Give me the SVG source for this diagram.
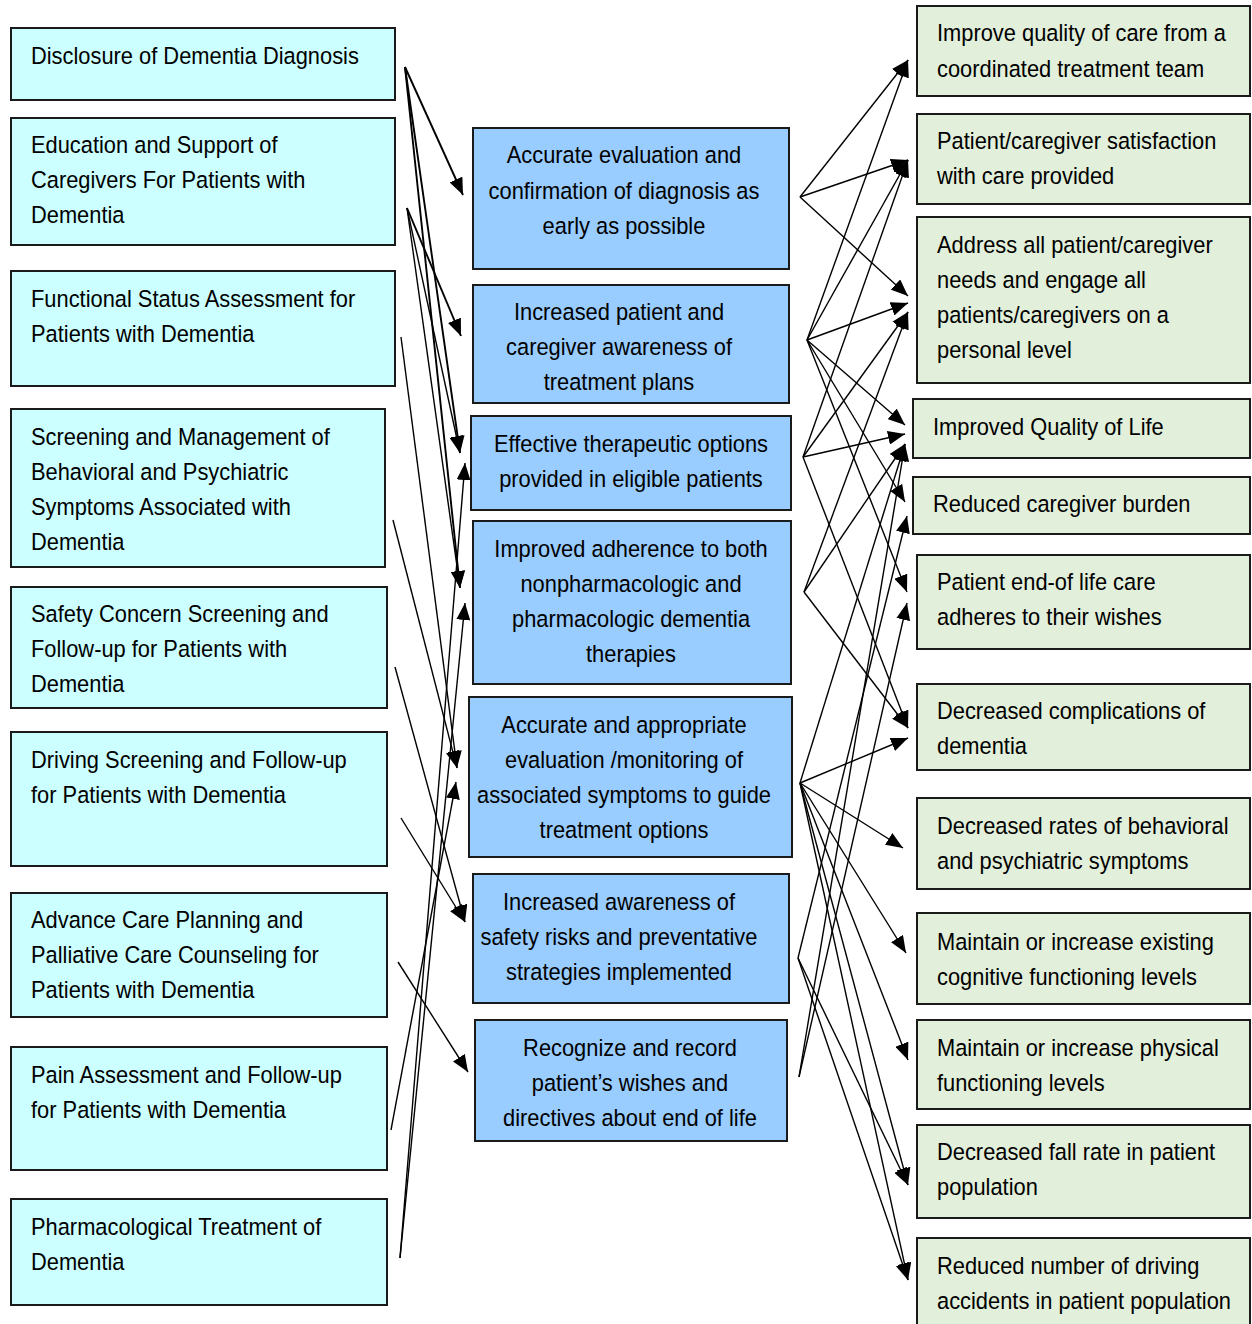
<svg xmlns="http://www.w3.org/2000/svg" width="1252" height="1324" viewBox="0 0 1252 1324">
<defs>
<marker id="ah" markerUnits="userSpaceOnUse" markerWidth="18" markerHeight="14" refX="17" refY="7" orient="auto">
<path d="M0,0 L17,7 L0,14 z" fill="#000"/>
</marker>
<style>
.l rect{fill:#CCFFFF;stroke:#1a1a1a;stroke-width:2}
.m rect{fill:#99CCFF;stroke:#1a1a1a;stroke-width:2}
.r rect{fill:#E2EFDA;stroke:#1a1a1a;stroke-width:2}
text{font-family:"Liberation Sans",Arial,sans-serif;font-size:23.5px;fill:#000;transform-box:fill-box;transform-origin:left center;transform:scaleX(0.93)}
.m text{text-anchor:middle;transform-origin:center}
#connectors line{stroke:#000;stroke-width:1.4;marker-end:url(#ah)}
#connectors .t{stroke-width:1.9}
</style>
</defs>
<rect width="1252" height="1324" fill="#fff"/>

<g id="L1" class="l"><rect x="11" y="28" width="384" height="72"/><text x="31" y="64">Disclosure of Dementia Diagnosis</text></g>
<g id="L2" class="l"><rect x="11" y="118" width="384" height="127"/><text x="31" y="153">Education and Support of</text><text x="31" y="188">Caregivers For Patients with</text><text x="31" y="223">Dementia</text></g>
<g id="L3" class="l"><rect x="11" y="271" width="384" height="115"/><text x="31" y="307">Functional Status Assessment for</text><text x="31" y="342">Patients with Dementia</text></g>
<g id="L4" class="l"><rect x="11" y="409" width="374" height="158"/><text x="31" y="445">Screening and Management of</text><text x="31" y="480">Behavioral and Psychiatric</text><text x="31" y="515">Symptoms Associated with</text><text x="31" y="550">Dementia</text></g>
<g id="L5" class="l"><rect x="11" y="587" width="376" height="121"/><text x="31" y="622">Safety Concern Screening and</text><text x="31" y="657">Follow-up for Patients with</text><text x="31" y="692">Dementia</text></g>
<g id="L6" class="l"><rect x="11" y="732" width="376" height="134"/><text x="31" y="768">Driving Screening and Follow-up</text><text x="31" y="803">for Patients with Dementia</text></g>
<g id="L7" class="l"><rect x="11" y="893" width="376" height="124"/><text x="31" y="928">Advance Care Planning and</text><text x="31" y="963">Palliative Care Counseling for</text><text x="31" y="998">Patients with Dementia</text></g>
<g id="L8" class="l"><rect x="11" y="1047" width="376" height="123"/><text x="31" y="1083">Pain Assessment and Follow-up</text><text x="31" y="1118">for Patients with Dementia</text></g>
<g id="L9" class="l"><rect x="11" y="1199" width="376" height="106"/><text x="31" y="1235">Pharmacological Treatment of</text><text x="31" y="1270">Dementia</text></g>

<g id="M1" class="m"><rect x="473" y="128" width="316" height="141"/><text x="624" y="163">Accurate evaluation and</text><text x="624" y="199">confirmation of diagnosis as</text><text x="624" y="234">early as possible</text></g>
<g id="M2" class="m"><rect x="473" y="285" width="316" height="118"/><text x="619" y="320">Increased patient and</text><text x="619" y="355">caregiver awareness of</text><text x="619" y="390">treatment plans</text></g>
<g id="M3" class="m"><rect x="471" y="416" width="320" height="94"/><text x="631" y="452">Effective therapeutic options</text><text x="631" y="487">provided in eligible patients</text></g>
<g id="M4" class="m"><rect x="473" y="521" width="318" height="163"/><text x="631" y="557">Improved adherence to both</text><text x="631" y="592">nonpharmacologic and</text><text x="631" y="627">pharmacologic dementia</text><text x="631" y="662">therapies</text></g>
<g id="M5" class="m"><rect x="469" y="697" width="323" height="160"/><text x="624" y="733">Accurate and appropriate</text><text x="624" y="768">evaluation /monitoring of</text><text x="624" y="803">associated symptoms to guide</text><text x="624" y="838">treatment options</text></g>
<g id="M6" class="m"><rect x="473" y="874" width="316" height="129"/><text x="619" y="910">Increased awareness of</text><text x="619" y="945">safety risks and preventative</text><text x="619" y="980">strategies implemented</text></g>
<g id="M7" class="m"><rect x="475" y="1020" width="312" height="121"/><text x="630" y="1056">Recognize and record</text><text x="630" y="1091">patient’s wishes and</text><text x="630" y="1126">directives about end of life</text></g>

<g id="R1" class="r"><rect x="917" y="6" width="333" height="90"/><text x="937" y="41">Improve quality of care from a</text><text x="937" y="77">coordinated treatment team</text></g>
<g id="R2" class="r"><rect x="917" y="114" width="333" height="90"/><text x="937" y="149">Patient/caregiver satisfaction</text><text x="937" y="184">with care provided</text></g>
<g id="R3" class="r"><rect x="917" y="217" width="333" height="166"/><text x="937" y="253">Address all patient/caregiver</text><text x="937" y="288">needs and engage all</text><text x="937" y="323">patients/caregivers on a</text><text x="937" y="358">personal level</text></g>
<g id="R4" class="r"><rect x="913" y="399" width="337" height="59"/><text x="933" y="435">Improved Quality of Life</text></g>
<g id="R5" class="r"><rect x="913" y="477" width="337" height="57"/><text x="933" y="512">Reduced caregiver burden</text></g>
<g id="R6" class="r"><rect x="917" y="555" width="333" height="94"/><text x="937" y="590">Patient end-of life care</text><text x="937" y="625">adheres to their wishes</text></g>
<g id="R7" class="r"><rect x="917" y="684" width="333" height="86"/><text x="937" y="719">Decreased complications of</text><text x="937" y="754">dementia</text></g>
<g id="R8" class="r"><rect x="917" y="798" width="333" height="91"/><text x="937" y="834">Decreased rates of behavioral</text><text x="937" y="869">and psychiatric symptoms</text></g>
<g id="R9" class="r"><rect x="917" y="913" width="333" height="91"/><text x="937" y="950">Maintain or increase existing</text><text x="937" y="985">cognitive functioning levels</text></g>
<g id="R10" class="r"><rect x="917" y="1020" width="333" height="89"/><text x="937" y="1056">Maintain or increase physical</text><text x="937" y="1091">functioning levels</text></g>
<g id="R11" class="r"><rect x="917" y="1125" width="333" height="93"/><text x="937" y="1160">Decreased fall rate in patient</text><text x="937" y="1195">population</text></g>
<g id="R12" class="r"><rect x="917" y="1238" width="333" height="90"/><text x="937" y="1274">Reduced number of driving</text><text x="937" y="1309">accidents in patient population</text></g>

<g id="connectors">
<line class="t" x1="405" y1="67" x2="463" y2="195"/>
<line class="t" x1="405" y1="67" x2="460" y2="453"/>
<line class="t" x1="405" y1="67" x2="460" y2="588"/>
<line class="t" x1="407" y1="208" x2="461" y2="336"/>
<line x1="407" y1="208" x2="460" y2="453"/>
<line x1="407" y1="208" x2="460" y2="588"/>
<line x1="401" y1="337" x2="457" y2="768"/>
<line x1="393" y1="520" x2="457" y2="768"/>
<line x1="395" y1="667" x2="465" y2="922"/>
<line x1="401" y1="818" x2="465" y2="922"/>
<line x1="398" y1="962" x2="468" y2="1072"/>
<line x1="391" y1="1130" x2="456" y2="782"/>
<line x1="400" y1="1258" x2="465" y2="463"/>
<line x1="400" y1="1258" x2="465" y2="603"/>

<line x1="800" y1="197" x2="908" y2="60"/>
<line x1="800" y1="197" x2="908" y2="160"/>
<line x1="800" y1="197" x2="908" y2="296"/>
<line x1="807" y1="340" x2="908" y2="60"/>
<line x1="807" y1="340" x2="908" y2="160"/>
<line x1="807" y1="340" x2="908" y2="303"/>
<line x1="807" y1="340" x2="905" y2="425"/>
<line x1="807" y1="340" x2="905" y2="502"/>
<line x1="807" y1="340" x2="907" y2="592"/>
<line x1="803" y1="457" x2="908" y2="160"/>
<line x1="803" y1="457" x2="908" y2="312"/>
<line x1="803" y1="457" x2="905" y2="434"/>
<line x1="803" y1="457" x2="908" y2="728"/>
<line x1="804" y1="592" x2="908" y2="312"/>
<line x1="804" y1="592" x2="905" y2="444"/>
<line x1="804" y1="592" x2="908" y2="728"/>
<line x1="800" y1="783" x2="905" y2="444"/>
<line x1="800" y1="783" x2="908" y2="738"/>
<line x1="800" y1="783" x2="903" y2="848"/>
<line x1="800" y1="783" x2="906" y2="953"/>
<line x1="800" y1="783" x2="908" y2="1060"/>
<line x1="800" y1="783" x2="908" y2="1185"/>
<line x1="800" y1="783" x2="908" y2="1280"/>
<line x1="798" y1="958" x2="907" y2="516"/>
<line x1="798" y1="958" x2="908" y2="1185"/>
<line x1="798" y1="958" x2="908" y2="1280"/>
<line x1="799" y1="1077" x2="907" y2="603"/>
<line x1="799" y1="1077" x2="905" y2="444"/>
</g>
</svg>
